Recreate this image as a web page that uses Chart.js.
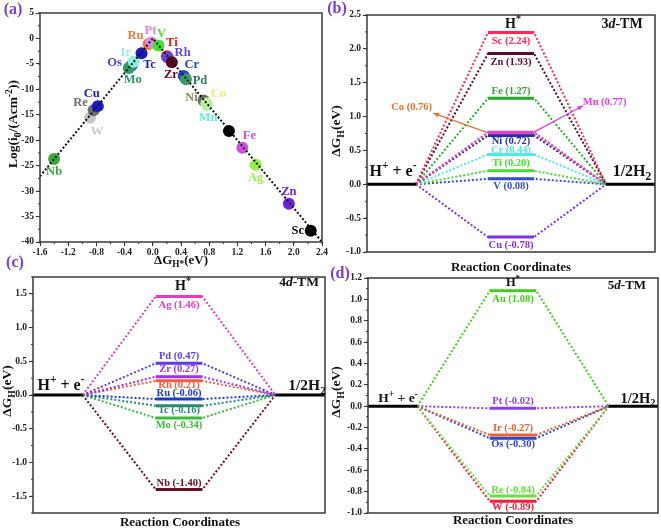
<!DOCTYPE html>
<html><head><meta charset="utf-8">
<script src="https://cdn.jsdelivr.net/npm/chart.js@4"></script>
<style>
html,body{margin:0;padding:0;background:#fff;width:661px;height:530px;overflow:hidden}
canvas{position:absolute;left:0;top:0}
</style></head>
<body>
<canvas id="ca" width="661" height="530"></canvas>
<canvas id="cb" width="661" height="530"></canvas>
<canvas id="cc" width="661" height="530"></canvas>
<canvas id="cd" width="661" height="530"></canvas>
<script>
// ---------------- DATA ----------------
// (a) volcano plot
const volcanoMetals = ['Nb','W','Re','Cu','Os','Mo','Ir','Tc','Ru','Pt','V','Ti','Rh','Zr','Cr','Pd','Ni','Co','Mn','Au','Fe','Ag','Zn','Sc'];
const volcanoDG     = [-1.40,-0.89,-0.84,-0.78,-0.30,-0.34,-0.27,-0.16,-0.06,-0.02,0.08,0.20,0.21,0.27,0.44,0.47,0.72,0.76,0.77,1.08,1.27,1.46,1.93,2.24];
const volcanoLogI0  = [-23.7,-15.6,-14.1,-13.3,-5.3,-5.8,-4.6,-2.9,-1.1,-0.8,-1.4,-3.5,-3.7,-4.7,-7.4,-8.0,-12.2,-12.8,-13.1,-18.2,-21.5,-24.8,-32.5,-37.8];
const trendDG       = [-1.6, 0.0, 2.4];
const trendLogI0    = [-27.1, 0.0, -40.0];
const volcanoXTicks = [-1.6,-1.2,-0.8,-0.4,0.0,0.4,0.8,1.2,1.6,2.0,2.4];
const volcanoYTicks = [5,0,-5,-10,-15,-20,-25,-30,-35,-40];

// reaction coordinate stages: axis start, H+ + e- end, H* start, H* end, 1/2H2 start, axis end
const stageX = [0, 17, 42, 58, 83, 100];

// (b) 3d-TM
const tm3Metals = ['Sc','Zn','Fe','Mn','Co','Ni','Cr','Ti','V','Cu'];
const tm3DG     = [2.24,1.93,1.27,0.77,0.76,0.72,0.44,0.20,0.08,-0.78];
const tm3YTicks = [2.5,2.0,1.5,1.0,0.5,0.0,-0.5,-1.0];
// (c) 4d-TM
const tm4Metals = ['Ag','Pd','Zr','Rh','Ru','Tc','Mo','Nb'];
const tm4DG     = [1.46,0.47,0.27,0.21,-0.06,-0.16,-0.34,-1.40];
const tm4YTicks = [1.5,1.0,0.5,0.0,-0.5,-1.0,-1.5];
// (d) 5d-TM
const tm5Metals = ['Au','Pt','Ir','Os','Re','W'];
const tm5DG     = [1.08,-0.02,-0.27,-0.30,-0.84,-0.89];
const tm5YTicks = [1.2,1.0,0.8,0.6,0.4,0.2,0.0,-0.2,-0.4,-0.6,-0.8,-1.0];

// ---------------- STYLE ----------------
const FONT = '"Liberation Serif", "Times New Roman", serif';
const PURPLE = '#7b3fd0';
const volcanoPointColors = ['#3aa83a','#c4c8cc','#6c7070','#1818c8','#4a48e0','#2e9a64','#8ef0e4','#1a1ac0','#f07838','#e088e8','#48e030','#f01818','#6044e0','#5a0a1e','#2040d0','#3a9a6a','#6e7464','#d8f290','#b8f0a0','#000000','#d050e0','#98ee48','#7020e0','#000000'];
const volcanoLabelColors = ['#3aa83a','#c4c8cc','#6c7070','#1818c8','#4a48e0','#2e9a64','#8ef0e4','#1a1ac0','#f07838','#e088e8','#48e030','#f01818','#6044e0','#5a0a1e','#2040d0','#2e7a5a','#8a8a60','#e8f07a','#70e8d8','','#d050e0','#98ee48','#7020e0','#000000'];
const volcanoLabelOffset = [[0,13],[7,14],[-13,-7],[-6,-12],[-17,-3],[4,12],[-8,-9],[8,12],[-13,-8],[-1,-12],[3,-12],[5,-13],[15,-5],[-1,12],[8,-11],[14,2],[-12,-3],[12,-10],[1,13],[0,0],[7,-12],[0,13],[0,-12],[-13,0]];

// label vertical offsets (px) from each H* level; null = callout instead
const tm3Colors = ['#ff2a55','#5a0a30','#2aaa2a','#e040e0','#e87030','#2030b0','#50e8e8','#44dd33','#3050d0','#8030e0'];
const tm3LabelDy = [8.5,8.5,-7.5,null,null,6,-4.5,-7.5,7,8];
const tm4Colors = ['#e040c0','#5b3de8','#9b35e0','#f06040','#1a3ad0','#2a8a70','#3cb83c','#6b1020'];
const tm4LabelDy = [8.3,-7,-7.5,4,-6,4,7.5,-6];
const tm5Colors = ['#44cc22','#9040e8','#f06030','#2848d0','#66e040','#f0203c'];
const tm5LabelDy = [8,-7.5,-6.5,6,-5.5,5.8];

// ---------------- HELPERS ----------------
function rich(ctx, segs, x, y, size, color, align, rot) {
  ctx.save();
  ctx.translate(x, y);
  if (rot) ctx.rotate(rot);
  let w = 0;
  const parts = segs.map(([t, k]) => {
    const small = (k === 'sub' || k === 'sup');
    const s = small ? size * 0.72 : size;
    const f = (k === 'it' ? 'italic ' : '') + 'bold ' + s + 'px ' + FONT;
    ctx.font = f;
    const mw = ctx.measureText(t).width;
    w += mw;
    return {t, k, f, mw};
  });
  let cx = align === 'left' ? 0 : align === 'right' ? -w : -w / 2;
  ctx.textBaseline = 'middle';
  ctx.textAlign = 'left';
  ctx.fillStyle = color;
  parts.forEach(p => {
    const dy = p.k === 'sub' ? size * 0.3 : p.k === 'sup' ? -size * 0.35 : 0;
    ctx.font = p.f;
    ctx.fillText(p.t, cx, dy);
    cx += p.mw;
  });
  ctx.restore();
}
function boxAndMinor(chart, yMinor, xMinor) {
  const ctx = chart.ctx, a = chart.chartArea;
  ctx.save();
  ctx.strokeStyle = '#3a3a3a';
  ctx.lineWidth = 1.5;
  ctx.strokeRect(a.left, a.top, a.right - a.left, a.bottom - a.top);
  ctx.lineWidth = 1;
  const ys = chart.scales.y;
  if (yMinor) {
    for (let v = ys.min; v <= ys.max + 1e-9; v += yMinor) {
      const p = ys.getPixelForValue(v);
      ctx.beginPath(); ctx.moveTo(a.left - 2, p); ctx.lineTo(a.left, p); ctx.stroke();
    }
  }
  const xs = chart.scales.x;
  if (xMinor) {
    for (let v = xs.min; v <= xs.max + 1e-9; v += xMinor) {
      const p = xs.getPixelForValue(v);
      ctx.beginPath(); ctx.moveTo(p, a.bottom); ctx.lineTo(p, a.bottom + 2); ctx.stroke();
    }
  }
  ctx.restore();
}
function arrow(ctx, x0, y0, x1, y1, color) {
  ctx.save();
  ctx.strokeStyle = color; ctx.fillStyle = color; ctx.lineWidth = 1.3;
  ctx.beginPath(); ctx.moveTo(x0, y0); ctx.lineTo(x1, y1); ctx.stroke();
  const ang = Math.atan2(y1 - y0, x1 - x0);
  ctx.beginPath();
  ctx.moveTo(x1, y1);
  ctx.lineTo(x1 - 6 * Math.cos(ang - 0.4), y1 - 6 * Math.sin(ang - 0.4));
  ctx.lineTo(x1 - 6 * Math.cos(ang + 0.4), y1 - 6 * Math.sin(ang + 0.4));
  ctx.closePath(); ctx.fill();
  ctx.restore();
}
const tickFont = {family: FONT, size: 9.5, weight: 'bold'};
function yAxis(min, max, ticks, fmt) {
  return {
    min, max,
    afterBuildTicks: s => { s.ticks = ticks.map(v => ({value: v})); },
    afterFit: s => { s.width = 30; },
    ticks: {callback: fmt, font: tickFont, color: '#222', padding: 2, autoSkip: false},
    grid: {drawOnChartArea: false, drawTicks: true, tickLength: 4, color: '#333', lineWidth: 1},
    border: {display: false}
  };
}
const H_plus = [['H',''],['+','sup'],[' + e',''],['-','sup']];
const half_H2 = [['1/2H',''],['2','sub']];
const H_star = [['H',''],['*','sup']];
const dGH = [['\u0394G',''],['H','sub'],['(eV)','']];
const RC = [['Reaction Coordinates','']];

// ---------------- (a) ----------------
new Chart(document.getElementById('ca'), {
  type: 'scatter',
  data: {
    datasets: [
      {type: 'line', data: trendDG.map((x, i) => ({x, y: trendLogI0[i]})), borderColor: '#111', borderWidth: 2, borderDash: [2, 2], pointRadius: 0, order: 0},
      {data: volcanoDG.map((x, i) => ({x, y: volcanoLogI0[i]})), backgroundColor: volcanoPointColors, borderWidth: 0, pointRadius: 6, order: 1}
    ]
  },
  options: {
    responsive: false, animation: false, devicePixelRatio: 1,
    layout: {padding: {left: 10, top: 13, right: 661 - 322, bottom: 530 - 242 - 14}},
    plugins: {legend: {display: false}, tooltip: {enabled: false}},
    scales: {
      x: {
        type: 'linear', min: -1.6, max: 2.4,
        afterBuildTicks: s => { s.ticks = volcanoXTicks.map(v => ({value: v})); },
        afterFit: s => { s.height = 14; },
        ticks: {callback: v => v.toFixed(1), font: tickFont, color: '#222', padding: 1, autoSkip: false, maxRotation: 0},
        grid: {drawOnChartArea: false, drawTicks: true, tickLength: 4, color: '#333'},
        border: {display: false}
      },
      y: yAxis(-40, 5, volcanoYTicks, v => String(v))
    }
  },
  plugins: [{
    id: 'deco',
    afterDraw(chart) {
      const ctx = chart.ctx;
      boxAndMinor(chart, 2.5, 0.2);
      const xs = chart.scales.x, ys = chart.scales.y;
      volcanoMetals.forEach((m, i) => {
        if (!volcanoLabelColors[i]) return;
        const px = xs.getPixelForValue(volcanoDG[i]), py = ys.getPixelForValue(volcanoLogI0[i]);
        const [dx, dy] = volcanoLabelOffset[i];
        rich(ctx, [[m, '']], px + dx, py + dy, 12.5, volcanoLabelColors[i], 'center');
      });
      rich(ctx, [['(a)', '']], 13, 10, 16, PURPLE, 'center');
      rich(ctx, [['Log(i', ''], ['0', 'sub'], ['/(Acm', ''], ['-2', 'sup'], ['))', '']], 14, 124, 13.5, '#111', 'center', -Math.PI / 2);
      rich(ctx, [['\u0394G', ''], ['H*', 'sub'], ['(eV)', '']], 181, 261, 13, '#111', 'center');
    }
  }]
});

// ---------------- energy diagrams ----------------
function energyChart(id, metals, dg, colors, labelDy, yMin, yMax, yTicks, yMinor, area, texts, extra) {
  const datasets = [];
  metals.forEach((m, i) => {
    datasets.push({data: [{x: stageX[2], y: dg[i]}, {x: stageX[3], y: dg[i]}], borderColor: colors[i], borderWidth: 3, pointRadius: 0, order: 0});
  });
  datasets.push({data: [{x: stageX[0], y: 0}, {x: stageX[1], y: 0}], borderColor: '#000', borderWidth: 3, pointRadius: 0, order: 0});
  datasets.push({data: [{x: stageX[4], y: 0}, {x: stageX[5], y: 0}], borderColor: '#000', borderWidth: 3, pointRadius: 0, order: 0});
  metals.forEach((m, i) => {
    datasets.push({data: [{x: stageX[1], y: 0}, {x: stageX[2], y: dg[i]}, {x: stageX[3], y: dg[i]}, {x: stageX[4], y: 0}],
      borderColor: colors[i], borderWidth: 2, borderDash: [2, 2], pointRadius: 0, order: 1});
  });
  return new Chart(document.getElementById(id), {
    type: 'line',
    data: {datasets},
    options: {
      responsive: false, animation: false, devicePixelRatio: 1,
      layout: {padding: {left: area.left - 30, top: area.top, right: 661 - area.right, bottom: 530 - area.bottom}},
      plugins: {legend: {display: false}, tooltip: {enabled: false}},
      scales: {
        x: {type: 'linear', min: stageX[0], max: stageX[5], display: false},
        y: yAxis(yMin, yMax, yTicks, v => v.toFixed(1))
      }
    },
    plugins: [{
      id: 'deco',
      afterDraw(chart) {
        const ctx = chart.ctx;
        boxAndMinor(chart, yMinor, 0);
        const xs = chart.scales.x, ys = chart.scales.y;
        const cx = xs.getPixelForValue((stageX[2] + stageX[3]) / 2);
        metals.forEach((m, i) => {
          if (labelDy[i] === null) return;
          const py = ys.getPixelForValue(dg[i]) + labelDy[i];
          rich(ctx, [[m + ' (' + dg[i].toFixed(2) + ')', '']], cx, py, 10.5, colors[i], 'center');
        });
        texts.forEach(t => rich(ctx, t.s, t.x, t.y, t.size, t.c || '#111', 'center', t.rot || 0));
        if (extra) extra(chart);
      }
    }]
  });
}

energyChart('cb', tm3Metals, tm3DG, tm3Colors, tm3LabelDy, -1.0, 2.5, tm3YTicks, 0.25,
  {left: 367, top: 15, right: 655, bottom: 252},
  [
    {s: [['(b)', '']], x: 337, y: 9, size: 16, c: PURPLE},
    {s: dGH, x: 337, y: 131, size: 13.5, rot: -Math.PI / 2},
    {s: H_star, x: 513, y: 24, size: 14},
    {s: [['3', ''], ['d', 'it'], ['-TM', '']], x: 622, y: 24, size: 14},
    {s: H_plus, x: 393, y: 172, size: 16},
    {s: half_H2, x: 632, y: 172, size: 16},
    {s: RC, x: 511, y: 268, size: 13}
  ],
  chart => {
    const ctx = chart.ctx, xs = chart.scales.x, ys = chart.scales.y;
    const iCo = tm3Metals.indexOf('Co'), iMn = tm3Metals.indexOf('Mn');
    arrow(ctx, xs.getPixelForValue(stageX[2]), ys.getPixelForValue(tm3DG[iCo]), xs.getPixelForValue(23), ys.getPixelForValue(1.05), tm3Colors[iCo]);
    arrow(ctx, xs.getPixelForValue(stageX[3]), ys.getPixelForValue(tm3DG[iMn]), xs.getPixelForValue(75), ys.getPixelForValue(1.16), tm3Colors[iMn]);
    rich(ctx, [['Co (' + tm3DG[iCo].toFixed(2) + ')', '']], xs.getPixelForValue(15.5), ys.getPixelForValue(1.14), 10.5, tm3Colors[iCo], 'center');
    rich(ctx, [['Mn (' + tm3DG[iMn].toFixed(2) + ')', '']], xs.getPixelForValue(82.5), ys.getPixelForValue(1.21), 10.5, tm3Colors[iMn], 'center');
  });

energyChart('cc', tm4Metals, tm4DG, tm4Colors, tm4LabelDy, -1.75, 1.75, tm4YTicks, 0.25,
  {left: 33, top: 277, right: 325, bottom: 513},
  [
    {s: [['(c)', '']], x: 15, y: 263, size: 16, c: PURPLE},
    {s: dGH, x: 8, y: 391, size: 13.5, rot: -Math.PI / 2},
    {s: H_star, x: 183, y: 286, size: 14},
    {s: [['4', ''], ['d', 'it'], ['-TM', '']], x: 299, y: 283, size: 13.5},
    {s: H_plus, x: 61, y: 386, size: 16},
    {s: half_H2, x: 307, y: 386, size: 15.5},
    {s: RC, x: 180, y: 523, size: 13}
  ]);

energyChart('cd', tm5Metals, tm5DG, tm5Colors, tm5LabelDy, -1.0, 1.2, tm5YTicks, 0.1,
  {left: 368, top: 278, right: 658, bottom: 513},
  [
    {s: [['(d)', '']], x: 340, y: 274, size: 16, c: PURPLE},
    {s: dGH, x: 337, y: 392, size: 13.5, rot: -Math.PI / 2},
    {s: H_star, x: 513, y: 283, size: 12.5},
    {s: [['5', ''], ['d', 'it'], ['-TM', '']], x: 627, y: 286, size: 13},
    {s: H_plus, x: 398, y: 399, size: 13.5},
    {s: half_H2, x: 638, y: 399, size: 14.5},
    {s: RC, x: 513, y: 521, size: 13}
  ]);
</script>
</body></html>
